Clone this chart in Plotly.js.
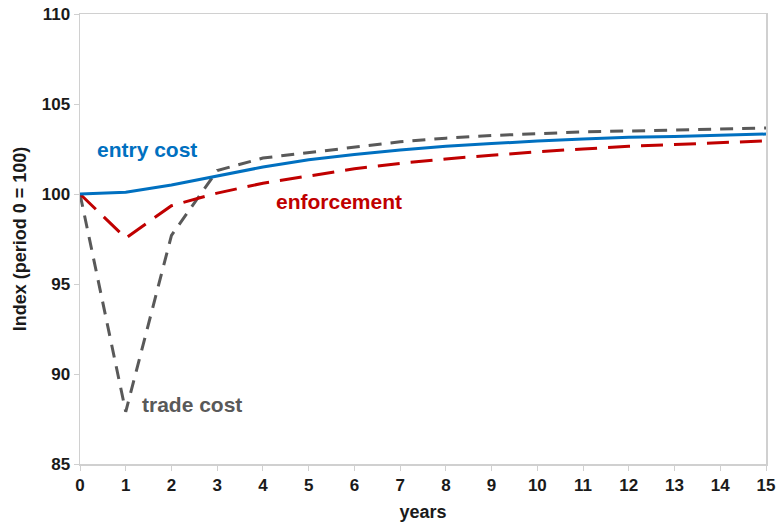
<!DOCTYPE html>
<html>
<head>
<meta charset="utf-8">
<script src="https://cdn.plot.ly/plotly-3.0.1.min.js"></script>
<style>html,body{margin:0;padding:0;background:#fff;}#chart{width:779px;height:525px;}</style>
</head>
<body>
<div id="chart"></div>
<script>
const years = [0,1,2,3,4,5,6,7,8,9,10,11,12,13,14,15];
const entryCost = [100,100.1,100.5,101.0,101.5,101.9,102.2,102.45,102.65,102.8,102.95,103.05,103.15,103.2,103.27,103.33];
const enforcement = [100,97.55,99.35,100.05,100.6,101.0,101.4,101.7,101.95,102.15,102.35,102.5,102.65,102.75,102.85,102.95];
const tradeCost = [100,87.9,97.7,101.3,102.0,102.3,102.6,102.9,103.1,103.25,103.35,103.45,103.5,103.57,103.62,103.67];
const yTicks = [85,90,95,100,105,110];
const xTicks = years;

const labels = [
  {name:'entry cost', x:1.47, y:102.45, color:'#0070c0'},
  {name:'enforcement', x:5.67, y:99.6, color:'#c00000'},
  {name:'trade cost', x:2.45, y:88.3, color:'#595959'}
];

const traces = [
  {x:years, y:tradeCost, type:'scatter', mode:'lines', name:'trade cost',
   line:{color:'#595959', width:3, dash:'13px,9px'}},
  {x:years, y:enforcement, type:'scatter', mode:'lines', name:'enforcement',
   line:{color:'#c00000', width:3, dash:'22px,11px'}},
  {x:years, y:entryCost, type:'scatter', mode:'lines', name:'entry cost',
   line:{color:'#0070c0', width:3}}
];

const font = 'Liberation Sans, Arial, sans-serif';
const layout = {
  width:779, height:525,
  margin:{l:80, r:13, t:14, b:61},
  paper_bgcolor:'#fff', plot_bgcolor:'#fff',
  showlegend:false,
  font:{family:font, color:'#1a1a1a'},
  xaxis:{range:[0,15], tickvals:xTicks, ticktext:xTicks.map(String),
    showgrid:false, zeroline:false, showline:true, linecolor:'#d0d0d0', linewidth:1.5, mirror:true,
    ticks:'outside', ticklen:5, tickcolor:'#d0d0d0',
    tickfont:{family:font, size:17, color:'#1a1a1a', weight:'bold'},
    title:{text:'<b>years</b>', font:{family:font, size:18, color:'#1a1a1a'}, standoff:11}},
  yaxis:{range:[85,110], tickvals:yTicks, ticktext:yTicks.map(String),
    showgrid:false, zeroline:false, showline:true, linecolor:'#d0d0d0', linewidth:1.5, mirror:true,
    ticks:'outside', ticklen:5, tickcolor:'#d0d0d0',
    tickfont:{family:font, size:17, color:'#1a1a1a', weight:'bold'},
    title:{text:'<b>Index (period 0 = 100)</b>', font:{family:font, size:18, color:'#1a1a1a'}, standoff:10}},
  annotations: labels.map(l => ({x:l.x, y:l.y, xref:'x', yref:'y', text:'<b>'+l.name+'</b>',
    showarrow:false, font:{family:font, size:21, color:l.color}}))
};

Plotly.newPlot('chart', traces, layout, {displayModeBar:false, staticPlot:true});
</script>
</body>
</html>
